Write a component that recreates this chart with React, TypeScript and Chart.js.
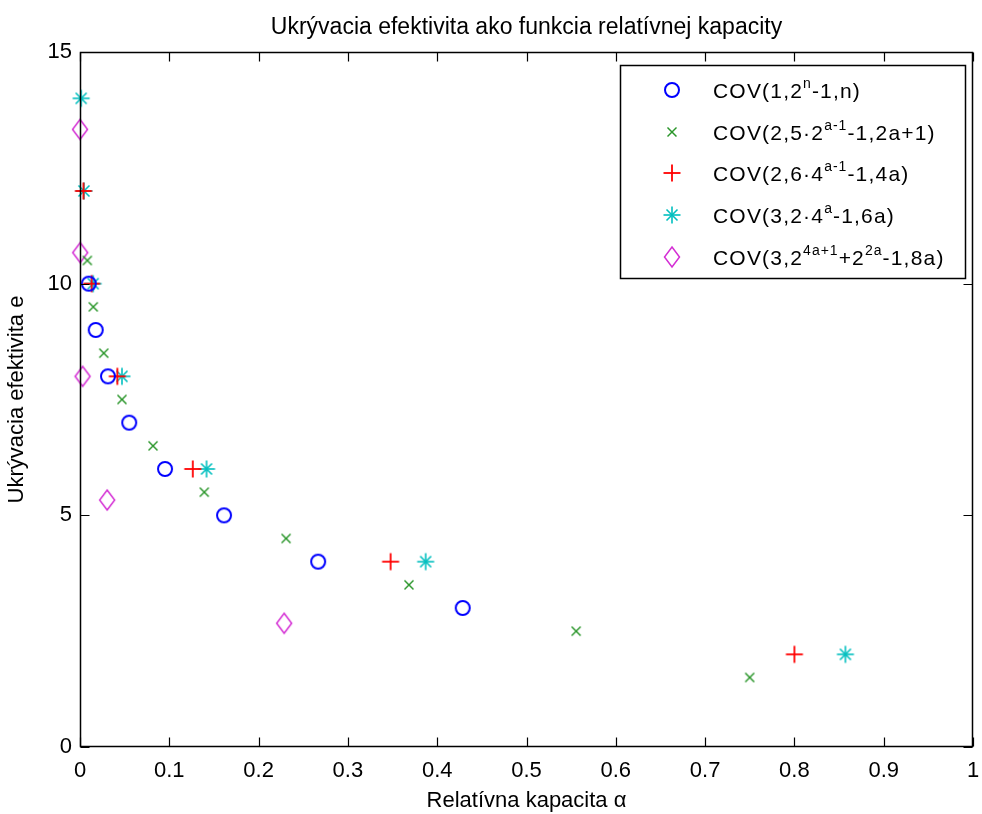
import React, { useEffect, useRef } from 'react';
import { Chart, registerables } from 'chart.js';

Chart.register(...registerables);

const chartTitle = 'Ukrývacia efektivita ako funkcia relatívnej kapacity';
const xAxisTitle = 'Relatívna kapacita α';
const yAxisTitle = 'Ukrývacia efektivita e';

const xTickLabels = ['0', '0.1', '0.2', '0.3', '0.4', '0.5', '0.6', '0.7', '0.8', '0.9', '1'];
const yTickLabels = ['0', '5', '10', '15'];

// COV(1,2^n-1,n)
const s1X = [0.0098, 0.0176, 0.0313, 0.0551, 0.0952, 0.1613, 0.2667, 0.4286];
const s1Y = [10, 9, 8, 7, 6, 5, 4, 3];
// COV(2,5·2^(a-1)-1,2a+1)
const s2X = [0.0082, 0.0149, 0.0266, 0.047, 0.0818, 0.1392, 0.2308, 0.3684, 0.5556, 0.75];
const s2Y = [10.5, 9.5, 8.5, 7.5, 6.5, 5.5, 4.5, 3.5, 2.5, 1.5];
// COV(2,6·4^(a-1)-1,4a)
const s3X = [0.0039, 0.013, 0.0418, 0.1263, 0.3478, 0.8];
const s3Y = [12, 10, 8, 6, 4, 2];
// COV(3,2·4^a-1,6a)
const s4X = [0.0013, 0.0044, 0.0147, 0.047, 0.1417, 0.3871, 0.8571];
const s4Y = [14, 12, 10, 8, 6, 4, 2];
// COV(3,2^(4a+1)+2^(2a)-1,8a)
const s5X = [0.00002, 0.00024, 0.0029, 0.0304, 0.2286];
const s5Y = [13.33, 10.67, 8, 5.33, 2.67];

type Seg = [string, boolean];
const legendLabels: Seg[][] = [
  [['COV(1,2', false], ['n', true], ['-1,n)', false]],
  [['COV(2,5·2', false], ['a-1', true], ['-1,2a+1)', false]],
  [['COV(2,6·4', false], ['a-1', true], ['-1,4a)', false]],
  [['COV(3,2·4', false], ['a', true], ['-1,6a)', false]],
  [['COV(3,2', false], ['4a+1', true], ['+2', false], ['2a', true], ['-1,8a)', false]],
];

const seriesColors = ['#0000ff', '#2a962a', '#ff0000', '#00bfbf', '#d42ed4'];
const seriesMarkers = ['circle', 'x', 'plus', 'star', 'diamond'];

const FONT = "'Liberation Sans', Arial, sans-serif";

function makeMarker(kind: string, color: string): HTMLCanvasElement {
  const s = 24;
  const c = document.createElement('canvas');
  c.width = s;
  c.height = s;
  const g = c.getContext('2d')!;
  const m = s / 2;
  g.strokeStyle = color;
  g.lineCap = 'butt';
  const line = (x1: number, y1: number, x2: number, y2: number) => {
    g.beginPath();
    g.moveTo(x1, y1);
    g.lineTo(x2, y2);
    g.stroke();
  };
  if (kind === 'circle') {
    g.lineWidth = 2;
    g.beginPath();
    g.arc(m, m, 7, 0, Math.PI * 2);
    g.stroke();
  } else if (kind === 'x') {
    g.lineWidth = 1.5;
    const r = 4.5;
    line(m - r, m - r, m + r, m + r);
    line(m - r, m + r, m + r, m - r);
  } else if (kind === 'plus') {
    g.lineWidth = 1.8;
    const r = 8.5;
    line(m - r, m, m + r, m);
    line(m, m - r, m, m + r);
  } else if (kind === 'star') {
    g.lineWidth = 1.6;
    const r = 8.5;
    const d = 5.5;
    line(m - r, m, m + r, m);
    line(m, m - r, m, m + r);
    line(m - d, m - d, m + d, m + d);
    line(m - d, m + d, m + d, m - d);
  } else if (kind === 'diamond') {
    g.lineWidth = 1.5;
    const w = 7.5;
    const h = 10;
    g.beginPath();
    g.moveTo(m, m - h);
    g.lineTo(m + w, m);
    g.lineTo(m, m + h);
    g.lineTo(m - w, m);
    g.closePath();
    g.stroke();
  }
  return c;
}

export default function App() {
  const ref = useRef<HTMLCanvasElement | null>(null);

  useEffect(() => {
    if (!ref.current) return;
    const markers = seriesMarkers.map((k, i) => makeMarker(k, seriesColors[i]));
    const xs = [s1X, s2X, s3X, s4X, s5X];
    const ys = [s1Y, s2Y, s3Y, s4Y, s5Y];

    const datasets = xs.map((xArr, i) => ({
      label: legendLabels[i].map((s) => s[0]).join(''),
      data: xArr.map((x, j) => ({ x, y: ys[i][j] })),
      pointStyle: markers[i],
      pointRadius: 8,
      showLine: false,
      borderColor: seriesColors[i],
      backgroundColor: seriesColors[i],
      clip: false as any,
    }));

    const boxPlugin = {
      id: 'boxPlugin',
      afterDatasetsDraw(chart: any) {
        const ctx = chart.ctx;
        const { left, right, top, bottom } = chart.chartArea;
        const xs = chart.scales.x;
        const ys = chart.scales.y;
        ctx.save();
        ctx.strokeStyle = '#000';
        ctx.lineWidth = 1.5;
        const L = Math.round(left) + 0.5;
        const R = Math.round(right) - 0.5;
        const T = Math.round(top) + 0.5;
        const B = Math.round(bottom) - 0.5;
        ctx.beginPath();
        ctx.rect(L, T, R - L, B - T);
        ctx.stroke();
        ctx.lineWidth = 1.2;
        const tl = 9;
        ctx.beginPath();
        xs.ticks.forEach((t: any) => {
          const px = Math.round(xs.getPixelForValue(t.value)) + 0.5;
          ctx.moveTo(px, B);
          ctx.lineTo(px, B - tl);
          ctx.moveTo(px, T);
          ctx.lineTo(px, T + tl);
        });
        ys.ticks.forEach((t: any) => {
          const py = Math.round(ys.getPixelForValue(t.value)) + 0.5;
          ctx.moveTo(L, py);
          ctx.lineTo(L + tl, py);
          ctx.moveTo(R, py);
          ctx.lineTo(R - tl, py);
        });
        ctx.stroke();
        ctx.restore();
      },
    };

    const legendPlugin = {
      id: 'matLegend',
      afterDraw(chart: any) {
        const ctx = chart.ctx;
        ctx.save();
        const bx = 620.5, by = 65.5, bw = 345, bh = 213;
        ctx.fillStyle = '#fff';
        ctx.fillRect(bx, by, bw, bh);
        ctx.strokeStyle = '#000';
        ctx.lineWidth = 1.5;
        ctx.strokeRect(bx, by, bw, bh);
        legendLabels.forEach((segs, i) => {
          const cy = 90 + i * 41.7;
          ctx.drawImage(markers[i], 672 - 12, Math.round(cy) - 12);
          let x = 713;
          const base = cy + 8;
          ctx.fillStyle = '#000';
          ctx.textBaseline = 'alphabetic';
          ctx.textAlign = 'left';
          segs.forEach(([t, sup]) => {
            ctx.font = sup ? `14px ${FONT}` : `21px ${FONT}`;
            (ctx as any).letterSpacing = sup ? '1px' : '1.2px';
            ctx.fillText(t, x, sup ? base - 10 : base);
            x += ctx.measureText(t).width;
          });
        });
        (ctx as any).letterSpacing = '0px';
        ctx.restore();
      },
    };

    const tickFont = { family: FONT, size: 22, weight: 'normal' as const };

    const chart = new Chart(ref.current, {
      type: 'scatter',
      data: { datasets },
      options: {
        responsive: false,
        animation: false,
        layout: { padding: { left: 0, right: 9, top: 0, bottom: 0 } },
        plugins: {
          legend: { display: false },
          tooltip: { enabled: false },
          title: {
            display: true,
            fullSize: false,
            text: chartTitle,
            color: '#000',
            font: { family: FONT, size: 23, weight: 'normal' },
            padding: { top: 14, bottom: 10.4 },
          },
        },
        scales: {
          x: {
            type: 'linear',
            min: 0,
            max: 1,
            grid: { display: false, drawTicks: false },
            border: { display: false },
            ticks: {
              stepSize: 0.1,
              autoSkip: false,
              maxRotation: 0,
              color: '#000',
              font: tickFont,
              padding: 11,
              callback: (_v: any, i: number) => xTickLabels[i],
            },
            title: {
              display: true,
              text: xAxisTitle,
              color: '#000',
              font: tickFont,
              padding: { top: 5.8, bottom: 0 },
            },
            afterFit: (s: any) => {
              s.height = 67;
              s.paddingLeft = 0;
              s.paddingRight = 0;
            },
          },
          y: {
            type: 'linear',
            min: 0,
            max: 15,
            grid: { display: false, drawTicks: false },
            border: { display: false },
            ticks: {
              stepSize: 5,
              color: '#000',
              font: tickFont,
              padding: 8,
              callback: (_v: any, i: number) => yTickLabels[i],
            },
            title: {
              display: true,
              text: yAxisTitle,
              color: '#000',
              font: tickFont,
              padding: { top: 4, bottom: 0 },
            },
            afterFit: (s: any) => {
              s.width = 80;
              s.paddingTop = 0;
              s.paddingBottom = 0;
            },
          },
        },
      },
      plugins: [boxPlugin, legendPlugin],
    });
    return () => chart.destroy();
  }, []);

  return (
    <div style={{ position: 'fixed', left: 0, top: 0, width: 982, height: 814, background: '#fff' }}>
      <canvas ref={ref} width={982} height={814} style={{ display: 'block' }} />
    </div>
  );
}
